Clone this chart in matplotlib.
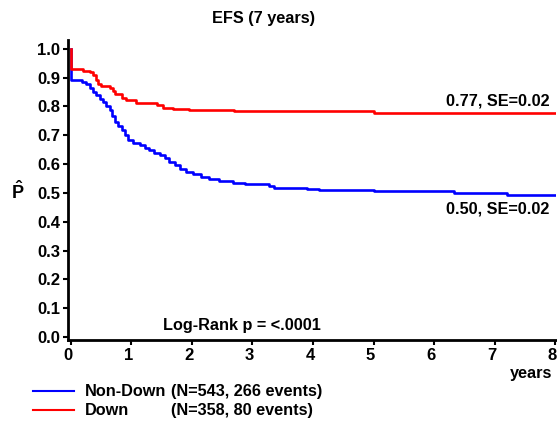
import matplotlib
matplotlib.use("Agg")
import matplotlib.pyplot as plt
import matplotlib.transforms as mtransforms
from matplotlib.lines import Line2D

plt.rcParams['font.family'] = ['Liberation Sans', 'DejaVu Sans']
plt.rcParams['font.weight'] = 'bold'
plt.rcParams['mathtext.fontset'] = 'custom'
plt.rcParams['mathtext.rm'] = 'Liberation Sans:bold'
plt.rcParams['mathtext.bf'] = 'Liberation Sans:bold'

# Kaplan-Meier estimates (years, survival)
t_nondown = [0.0, 0.01, 0.18, 0.26, 0.31, 0.37, 0.42, 0.48, 0.53, 0.58, 0.64,
             0.68, 0.73, 0.78, 0.84, 0.90, 0.95, 1.02, 1.14, 1.22, 1.30, 1.38,
             1.47, 1.55, 1.63, 1.72, 1.80, 1.90, 2.02, 2.15, 2.29, 2.45, 2.68,
             2.87, 3.28, 3.35, 3.90, 4.10, 5.00, 6.33, 7.20, 8.0]
s_nondown = [1.0, 0.890, 0.885, 0.878, 0.865, 0.849, 0.838, 0.826, 0.815, 0.800,
             0.786, 0.765, 0.746, 0.732, 0.717, 0.700, 0.683, 0.672, 0.666, 0.657,
             0.648, 0.640, 0.631, 0.620, 0.608, 0.595, 0.582, 0.574, 0.566, 0.556,
             0.547, 0.541, 0.536, 0.531, 0.524, 0.516, 0.513, 0.509, 0.505, 0.499,
             0.494, 0.494]

t_down = [0.0, 0.01, 0.20, 0.31, 0.37, 0.42, 0.45, 0.50, 0.64, 0.70, 0.73,
          0.85, 0.92, 1.08, 1.42, 1.52, 1.68, 1.95, 2.70, 5.00, 8.0]
s_down = [1.0, 0.930, 0.922, 0.918, 0.907, 0.893, 0.878, 0.870, 0.862, 0.852,
          0.844, 0.830, 0.821, 0.811, 0.803, 0.794, 0.790, 0.786, 0.783, 0.778,
          0.778]

group_labels = ["Non-Down", "Down"]
group_counts = ["(N=543, 266 events)", "(N=358, 80 events)"]
group_colors = ["#0000ff", "#ff0000"]
end_labels = ["0.50, SE=0.02", "0.77, SE=0.02"]

x_ticks = list(range(0, 9))
y_ticks = [i / 10 for i in range(11)]

fig = plt.figure(figsize=(5.57, 4.23), dpi=100)
ax = fig.add_axes([0.1221, 0.1962, 0.876, 0.7092])

ax.step(t_nondown, s_nondown, where="post", color=group_colors[0], lw=1.9)
ax.step(t_down, s_down, where="post", color=group_colors[1], lw=1.9)

ax.set_xlim(-0.045, 8.01)
ax.set_ylim(-0.01, 1.03)
ax.set_xticks(x_ticks)
ax.set_yticks(y_ticks)
ax.set_yticklabels(["%.1f" % v for v in y_ticks])
ax.tick_params(axis="both", labelsize=12, width=1.5, length=3.5, pad=2)
ax.tick_params(axis="x", pad=2)
for side in ["top", "right"]:
    ax.spines[side].set_visible(False)
for side in ["left", "bottom"]:
    ax.spines[side].set_linewidth(2)

# x tick labels sit a little left of their ticks
shift = mtransforms.ScaledTranslation(-3 / 100, 0, fig.dpi_scale_trans)
for lab in ax.get_xticklabels():
    lab.set_transform(lab.get_transform() + shift)

ax.text(0.992, -0.112, "years", transform=ax.transAxes, ha="right", va="center",
        fontsize=11.7, fontweight="bold")
ax.text(7.9, s_down[-1] + 0.04, end_labels[1], ha="right", va="center",
        fontsize=11.7, fontweight="bold")
ax.text(7.9, s_nondown[-1] - 0.05, end_labels[0], ha="right", va="center",
        fontsize=11.7, fontweight="bold")
ax.text(2.82, 0.04, "Log-Rank p = <.0001", ha="center", va="center",
        fontsize=11.7, fontweight="bold")

fig.text(264 / 557, 1 - 18 / 423, "EFS (7 years)", ha="center", va="center",
         fontsize=11.7, fontweight="bold")
fig.text(18 / 557, 1 - 192 / 423, r"$\hat{\mathbf{P}}$", ha="center",
         va="center", fontsize=13)

# legend below the axes
leg_y = [1 - 391 / 423, 1 - 410 / 423]
for i in range(2):
    fig.add_artist(Line2D([33 / 557, 74 / 557], [leg_y[i], leg_y[i]],
                          color=group_colors[i], lw=1.5))
    fig.text(85 / 557, leg_y[i], group_labels[i], ha="left", va="center",
             fontsize=11.7, fontweight="bold")
    fig.text(171 / 557, leg_y[i], group_counts[i], ha="left", va="center",
             fontsize=11.7, fontweight="bold")

fig.savefig("out.png", dpi=100)
